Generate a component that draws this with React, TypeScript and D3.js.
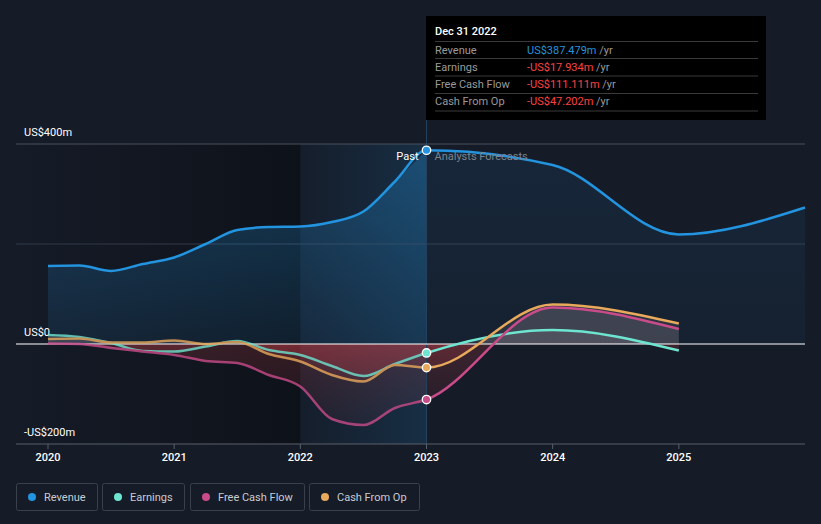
import React from "react";
import * as d3 from "d3";

const W = 821;
const H = 524;

const pastDates = [2020, 2020.25, 2020.5, 2020.75, 2021, 2021.25, 2021.5, 2021.75, 2022, 2022.25, 2022.5, 2022.75, 2023];
const revenuePast = [156, 157, 146, 160, 173, 200, 228, 234, 235, 244, 265, 325, 387.5];
const earningsPast = [18, 14, 2, -14, -15, -5, 6, -12, -22, -44, -64, -40, -17.9];
const fcfPast = [1, 0, -8, -15, -22, -34, -38, -62, -85, -150, -162, -128, -111.1];
const cfoPast = [10, 11, 3, 3, 7, 0, 4, -20, -35, -62, -75, -42, -47.2];

const revenueForecastDates = [2024, 2025, 2026];
const revenueForecast = [358, 219, 273];
const otherForecastDates = [2024, 2025];
const earningsForecast = [28, -13];
const fcfForecast = [73, 30];
const cfoForecast = [79, 41];

const yearTicks = [2020, 2021, 2022, 2023, 2024, 2025];
const yTicks = [
  { v: 400, label: "US$400m" },
  { v: 0, label: "US$0" },
  { v: -200, label: "-US$200m" },
];

const COLORS = {
  revenue: "#2394df",
  earnings: "#6ee5d0",
  fcf: "#c94b8a",
  cfo: "#e8a95b",
};

const legendItems = [
  { name: "Revenue", color: COLORS.revenue, x: 16, w: 81 },
  { name: "Earnings", color: COLORS.earnings, x: 102, w: 82 },
  { name: "Free Cash Flow", color: COLORS.fcf, x: 190, w: 114 },
  { name: "Cash From Op", color: COLORS.cfo, x: 309, w: 110 },
];

const tooltipRows = [
  { label: "Revenue", value: "US$387.479m", color: "#2394df" },
  { label: "Earnings", value: "-US$17.934m", color: "#ff4040" },
  { label: "Free Cash Flow", value: "-US$111.111m", color: "#ff4040" },
  { label: "Cash From Op", value: "-US$47.202m", color: "#ff4040" },
];

type P = [number, number];

function zip(xs: number[], ys: number[]): P[] {
  return xs.map((x, i) => [x, ys[i]] as P);
}

export default function App() {
  const x = d3.scaleLinear().domain([2020, 2026]).range([48, 805]);
  const y = d3.scaleLinear().domain([-200, 400]).range([444, 144]);

  const revenue = zip(pastDates, revenuePast).concat(zip(revenueForecastDates, revenueForecast));
  const earnings = zip(pastDates, earningsPast).concat(zip(otherForecastDates, earningsForecast));
  const fcf = zip(pastDates, fcfPast).concat(zip(otherForecastDates, fcfForecast));
  const cfo = zip(pastDates, cfoPast).concat(zip(otherForecastDates, cfoForecast));

  const line = d3
    .line<P>()
    .x((d) => x(d[0]))
    .y((d) => y(d[1]))
    .curve(d3.curveMonotoneX);
  const area = d3
    .area<P>()
    .x((d) => x(d[0]))
    .y0(y(0))
    .y1((d) => y(d[1]))
    .curve(d3.curveMonotoneX);

  const xNow = x(2023);
  const font = "Roboto, 'Open Sans', sans-serif";

  const dots = [
    { v: 387.5, c: COLORS.revenue },
    { v: -17.9, c: COLORS.earnings },
    { v: -47.2, c: COLORS.cfo },
    { v: -111.1, c: COLORS.fcf },
  ];

  return (
    <svg
      width={W}
      height={H}
      style={{ position: "absolute", left: 0, top: 0, display: "block" }}
      fontFamily={font}
    >
      <defs>
        <linearGradient id="pastDark" x1="0" x2="1" y1="0" y2="0">
          <stop offset="0" stopColor="#0b0f15" stopOpacity="0" />
          <stop offset="1" stopColor="#0b0f15" stopOpacity="0.75" />
        </linearGradient>
        <linearGradient id="band" x1="0" x2="1" y1="0" y2="0">
          <stop offset="0" stopColor="#2394df" stopOpacity="0.02" />
          <stop offset="1" stopColor="#2394df" stopOpacity="0.16" />
        </linearGradient>
        <linearGradient id="revPast" gradientUnits="userSpaceOnUse" x1="0" x2="0" y1="144" y2="344">
          <stop offset="0" stopColor="#2394df" stopOpacity="0.32" />
          <stop offset="1" stopColor="#2394df" stopOpacity="0.1" />
        </linearGradient>
        <linearGradient id="revFc" gradientUnits="userSpaceOnUse" x1="0" x2="0" y1="144" y2="344">
          <stop offset="0" stopColor="#2394df" stopOpacity="0.1" />
          <stop offset="1" stopColor="#2394df" stopOpacity="0.05" />
        </linearGradient>
        <linearGradient id="negArea" gradientUnits="userSpaceOnUse" x1="0" x2="0" y1="144" y2="444">
          <stop offset="0" stopColor="#c8b4bc" stopOpacity="0.12" />
          <stop offset="0.6667" stopColor="#c8b4bc" stopOpacity="0.12" />
          <stop offset="0.6667" stopColor="#d9434b" stopOpacity="0.2" />
          <stop offset="1" stopColor="#d9434b" stopOpacity="0.02" />
        </linearGradient>
        <linearGradient id="pastStroke" gradientUnits="userSpaceOnUse" x1="48" x2="805" y1="0" y2="0">
          <stop offset="0" stopColor="#fff" stopOpacity="0.8" />
          <stop offset={(xNow - 48) / (805 - 48)} stopColor="#fff" stopOpacity="0.8" />
          <stop offset={(xNow - 48) / (805 - 48)} stopColor="#fff" stopOpacity="1" />
          <stop offset="1" stopColor="#fff" stopOpacity="1" />
        </linearGradient>
        <mask id="fadeMask" maskUnits="userSpaceOnUse" x="0" y="0" width={W} height={H}>
          <rect x="0" y="0" width={W} height={H} fill="url(#pastStroke)" />
        </mask>
      </defs>

      <rect x="0" y="0" width={W} height={H} fill="#151b27" />

      {/* past shading */}
      <rect x={16} y={y(400)} width={x(2022) - 16} height={y(-200) - y(400)} fill="url(#pastDark)" />
      <rect x={x(2022)} y={y(400)} width={xNow - x(2022)} height={y(-200) - y(400)} fill="url(#band)" />

      {/* grid */}
      <line x1={16} x2={805} y1={y(400)} y2={y(400)} stroke="#4a505c" strokeWidth={1} />
      <line x1={16} x2={805} y1={y(200)} y2={y(200)} stroke="#323a48" strokeWidth={1} />

      {/* revenue area */}
      <path d={area(revenue.filter((d) => d[0] <= 2023)) || ""} fill="url(#revPast)" />
      <path d={area(revenue.filter((d) => d[0] >= 2023)) || ""} fill="url(#revFc)" />

      {/* other areas */}
      <path d={area(fcf) || ""} fill="url(#negArea)" />
      <path d={area(cfo) || ""} fill="url(#negArea)" />
      <path d={area(earnings) || ""} fill="url(#negArea)" />

      {/* now line */}
      <line x1={xNow} x2={xNow} y1={16} y2={444} stroke="#24405c" strokeWidth={1} />

      {/* zero line */}
      <line x1={16} x2={805} y1={y(0)} y2={y(0)} stroke="#ffffff" strokeWidth={1.2} />

      {/* axis */}
      <line x1={16} x2={805} y1={y(-200)} y2={y(-200)} stroke="#5a606b" strokeWidth={1} />
      {yearTicks.map((t) => (
        <g key={t}>
          <line x1={x(t)} x2={x(t)} y1={444} y2={449} stroke="#5a606b" />
          <text x={x(t)} y={461} textAnchor="middle" fontSize={11} fill="#ffffff" fontWeight={500}>
            {t}
          </text>
        </g>
      ))}
      {yTicks.map((t) => (
        <text key={t.v} x={24} y={y(t.v) - 8} fontSize={11} fill="#ffffff">
          {t.label}
        </text>
      ))}

      {/* lines */}
      <g mask="url(#fadeMask)">
        <path d={line(earnings) || ""} fill="none" stroke={COLORS.earnings} strokeWidth={2.5} />
        <path d={line(cfo) || ""} fill="none" stroke={COLORS.cfo} strokeWidth={2.5} />
        <path d={line(fcf) || ""} fill="none" stroke={COLORS.fcf} strokeWidth={2.5} />
      </g>
      <path d={line(revenue) || ""} fill="none" stroke={COLORS.revenue} strokeWidth={2.5} />

      {/* labels past / forecast */}
      <text x={xNow - 8} y={y(387.5) + 10} textAnchor="end" fontSize={11} fill="#ffffff">
        Past
      </text>
      <text x={xNow + 8} y={y(387.5) + 10} fontSize={11} fill="#7d838d">
        Analysts Forecasts
      </text>

      {/* dots */}
      {dots.map((d, i) => (
        <circle key={i} cx={xNow} cy={y(d.v)} r={4.2} fill={d.c} stroke="#ffffff" strokeWidth={1.3} />
      ))}

      {/* tooltip */}
      <g>
        <rect x={426} y={16} width={340} height={104} fill="#000000" />
        <text x={435} y={35} fontSize={11} fill="#ffffff" fontWeight={500}>
          Dec 31 2022
        </text>
        {[41.5, 58.5, 76, 93.5, 111].map((ly, i) => (
          <line key={i} x1={435} x2={758} y1={ly} y2={ly} stroke="#3a3a3a" strokeWidth={1} />
        ))}
        {tooltipRows.map((r, i) => {
          const cy = [53.5, 70.5, 88, 105][i];
          return (
            <g key={r.label}>
              <text x={435} y={cy} fontSize={11} fill="#9a9a9a">
                {r.label}
              </text>
              <text x={527} y={cy} fontSize={11}>
                <tspan fill={r.color}>{r.value}</tspan>
                <tspan fill="#9a9a9a"> /yr</tspan>
              </text>
            </g>
          );
        })}
      </g>

      {/* legend */}
      {legendItems.map((it) => (
        <g key={it.name}>
          <rect
            x={it.x + 0.5}
            y={483.5}
            width={it.w}
            height={27}
            rx={2}
            fill="none"
            stroke="#3a404c"
            strokeWidth={1}
          />
          <circle cx={it.x + 16} cy={497} r={4} fill={it.color} />
          <text x={it.x + 28} y={501} fontSize={11} fill="#c8ccd2">
            {it.name}
          </text>
        </g>
      ))}
    </svg>
  );
}
